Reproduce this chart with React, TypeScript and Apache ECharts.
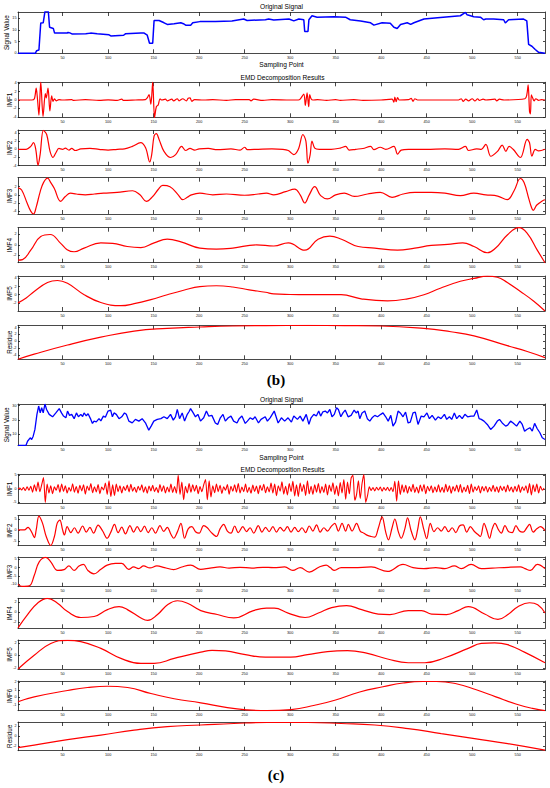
import React, { useEffect, useRef } from "react";
import * as echarts from "echarts";

// ---------- DATA ----------
const xTickValues = [50, 100, 150, 200, 250, 300, 350, 400, 450, 500, 550];

const bOriginal = [[1,0],[20,0],[21.5,1.1],[24,1.4],[26,12.9],[28.7,13],[30.6,17.8],[34.3,17.8],[35.7,11.1],[39.8,10.6],[41.2,8.6],[55,8.6],[56,8.9],[58,8.7],[60.7,8.2],[75.5,8.3],[80.7,8.6],[88,8.3],[101,7.9],[103,7.4],[117,7.7],[119,8.3],[136,8.6],[139.6,8.6],[143,7.7],[145.5,4.3],[149,4.3],[150.5,14.0],[156,14.0],[161.5,13],[165,12.3],[172.5,12.6],[179.9,13],[182.7,12.6],[185.2,12],[190.7,12],[193,13],[200.8,13.5],[218,13.5],[236,13.8],[249,14.6],[252.7,14],[272.8,14.3],[276.4,14.6],[282,14.2],[298.7,14.6],[304,13.8],[309.6,14.6],[315,14.3],[316,9.3],[319.6,9.3],[320.6,14.3],[324,16],[329.6,15.4],[348,15.6],[360.8,15.4],[366,14.3],[377.4,13.8],[388.4,13],[392,12],[401,13],[410,12.8],[414,11.1],[417.6,10.6],[421.3,12.3],[428.6,13],[432.4,12.3],[436,13],[447,14.6],[465,15.3],[487,16],[492.6,17.4],[494.4,16.4],[501.8,15.6],[509,15.4],[512.6,14.3],[515,14.6],[523.6,14.6],[534.6,14.3],[536.4,12.9],[540,14.3],[556.5,14.6],[560,13.8],[562,3.8],[565.6,3.0],[569.3,1.6],[573,0.4],[580,0]];
const bImf1 = [[1,0],[16,0],[19,0.3],[21,2.8],[22.5,0],[24,-3.6],[26,4.3],[28.5,-3.9],[31,1.5],[32,0.5],[34,2.8],[36,-2.6],[38,1.0],[39.5,-0.3],[41,0.3],[43,-0.2],[46,0.1],[50,0],[60,0.1],[62,-0.1],[75,0.1],[90,-0.1],[100,0.05],[110,-0.1],[115,0.2],[117,-0.1],[130,0],[141,0.1],[143,0.5],[145,1.3],[147,-1],[149,4.3],[151,-4.2],[153,-1.6],[155,-1.2],[157,0.3],[159,0],[163,0.2],[165,-0.2],[170,0.2],[172,-0.2],[176,0.3],[178,-0.2],[182,0.3],[186,-0.2],[188,0.4],[190,0.5],[192,-0.3],[195,0.1],[205,0],[215,0.1],[230,-0.1],[240,0.1],[255,0.1],[257,-0.2],[260,0.2],[270,-0.1],[280,0.1],[300,0],[309,0],[311,0.2],[315,1.4],[316.7,-1.3],[318.6,1.7],[320.4,-1.6],[321.5,1.3],[323,0.3],[325,0],[330,0.1],[340,-0.1],[350,0.1],[355,-0.1],[370,0.1],[380,-0.1],[400,0],[412,0.2],[414,-0.5],[415,0.7],[416.5,-0.4],[418,0.6],[420,0],[430,0.1],[433,0.4],[435,-0.3],[437,0.3],[440,0],[460,0],[485,0],[488,0.3],[490,-0.3],[493,0.2],[496,-0.2],[500,0.3],[503,-0.2],[506,0.3],[508,-0.1],[512,0.2],[515,0],[525,0.2],[527,-0.2],[530,0.2],[535,0],[558,0.3],[560,1.2],[561.5,3.6],[563,-2.7],[564,-3.3],[565,1.2],[566.6,0.4],[568,-0.2],[570,0.3],[573,-0.1],[576,0.1],[580,0]];
const bImf2 = [[1,0],[10,0],[15,0.7],[18,1.6],[20.5,0],[23,-3.9],[25.3,-1.3],[28.9,4.6],[32.5,3.6],[36.2,-0.5],[39.5,-2],[42.5,-0.9],[46,0.2],[50,0],[53,0.3],[57,-0.2],[60,0.2],[64,-0.3],[70,0.1],[80,0.2],[90,0],[100,-0.2],[110,0],[118,0.1],[126.6,0.7],[135.8,1.6],[141.3,0.3],[145.7,-3.1],[147.9,-1.3],[150.5,3.2],[153,3.8],[156,2.4],[161.4,-0.5],[168.7,-2],[174.2,-1.3],[180.8,0.7],[185.2,-0.3],[190,0.2],[195,-0.2],[200,0.1],[210,0.2],[220,-0.1],[235,0.1],[245,-0.2],[250,0.5],[253,-0.1],[265,0],[280,0.1],[292,0],[298,-0.3],[304,-1.3],[309,0],[314,3.6],[317.3,2],[319.5,-3.4],[322,-1.3],[324,2],[327,0.3],[332,0],[345,0],[355,0.3],[361,0.7],[365,-0.2],[372,0],[380,0.2],[388.4,0.7],[392,-0.1],[399,0.5],[405,0],[414,0.7],[418,-1.2],[422,-0.2],[430,0],[450,0],[470,0.1],[485,0],[492.6,0.7],[496,-0.3],[505,0.1],[510,0],[515,1.2],[520.5,-1.7],[527.8,-0.5],[533,1.0],[537,-0.5],[540.6,0.7],[545,0],[553,-2],[560.4,2.4],[563,1.6],[565.6,-1.7],[569.3,0],[573,-0.4],[580,0]];
const bImf3 = [[1,1.7],[5,1.2],[11,-2],[15,-4],[18,-4.7],[21,-3],[25.4,0.8],[29,3],[33.5,4.1],[37,3],[40.8,1.6],[47.9,-1.6],[53,-0.4],[58.7,0.4],[65,0.2],[75,0],[85,0.2],[95,0.4],[110,0.6],[127,1.0],[135,0],[142,-1.6],[149,-0.4],[155,1.3],[160,2.3],[168,2],[177,0],[182,-1.2],[187,-0.6],[191.5,0],[200.8,0.4],[215,0],[230,0.2],[250,-0.1],[265,0.2],[274,0.4],[282,0],[295,0.8],[305,1.4],[311,0],[316,-2],[321,0],[327,2],[333.5,-0.2],[341,-1],[350,0],[359.5,0.4],[370.5,-0.4],[385,0.2],[399,0.6],[412,-0.6],[424,0.2],[437,0.6],[447,0.6],[455,0.6],[470,0.4],[487,-0.2],[501.8,0.4],[515,0],[528,-0.3],[538.5,-1.2],[546,1],[553,4.0],[557,3],[562,-0.8],[565,-3],[567,-3.8],[571,-2.5],[577,-1.5],[580,-1.2]];
const bImf4 = [[1,-2.9],[6,-2.8],[15,-1],[26,1.6],[36.3,2.0],[47.9,0.3],[55,-0.9],[62.6,-1.3],[73.6,-0.6],[92,0.4],[105,0.3],[121,-0.3],[136,-0.5],[150.6,0.4],[165,1.1],[180,0.6],[200.8,-0.6],[219,-0.8],[237,-0.6],[263,0],[282,-0.2],[298,0.4],[316,-1],[330.7,1.1],[343.6,1.7],[356.4,1.1],[374.7,-0.3],[392.9,-0.6],[418,-1],[437,-0.6],[455,-0.1],[473,0.1],[489.6,0.4],[502,-0.3],[516.6,-1.5],[525.8,-0.6],[538.6,1.9],[551.4,3.3],[560.5,2.2],[571.5,-1],[580,-3.4]];
const bImf5 = [[1,-2],[10,-0.8],[18.8,0.8],[33.4,3],[44.4,3.5],[55.4,2.8],[73.7,0],[92,-1.9],[114,-2.7],[128.6,-2.2],[147,-1.2],[165,0],[183,1.1],[200.8,2],[219,2.2],[237,1.9],[255,1.2],[273,0.6],[282,0.2],[300,0.05],[319.5,0],[356,0],[378,-1],[407,-1.5],[429,-1],[447,0],[465,1.6],[487,3.3],[502,4],[516.6,4.55],[527.6,4.3],[538.6,3],[553,0.8],[567.7,-1.6],[580,-4]];
const bResidue = [[1,-5.3],[18.8,-3.8],[55.4,-1.1],[92,1.2],[128.6,3],[165,3.8],[200.8,4.2],[237,4.5],[273.5,4.6],[319.6,4.65],[360,4.6],[399.4,4.5],[447,3.8],[476.6,2.8],[502,1.6],[538.6,-1.3],[560.5,-3],[580,-4.8]];

const cOriginal = [[1,2.4],[9.7,2.4],[11.5,5.3],[14.4,7.7],[16,6.5],[17.7,8.8],[19.6,13.5],[21.8,24],[23.7,29.8],[25.4,25],[27,28.6],[28.7,25],[30.6,31.2],[32.4,27.4],[35.3,24],[39,22.3],[42.6,25],[46.3,28],[48.8,25],[51,22.8],[53.6,21.6],[55.4,26.3],[57.6,23.3],[60,24],[62.7,21],[65.2,25],[67.4,22.3],[70,24],[72,22.5],[73.6,25],[76,23],[78,24.4],[81,20.5],[82.8,17.7],[84.5,19.3],[87,18.8],[90,21],[92,19.5],[94.8,22.8],[97,22],[99.9,26.3],[102.8,27],[104.7,22.3],[106.5,25],[109,24],[112,21],[115,22.3],[118,25],[120,24],[122.8,19.3],[126.5,18.1],[130,20.5],[133.8,19.3],[137.4,21],[141,18.1],[144.7,13],[147.3,15.8],[150.2,19.3],[154,20.5],[158,21],[161.3,22.3],[165,21],[168.6,24],[171.6,20],[174,22.3],[176,27.4],[178.5,21],[181.4,25],[184,19.3],[187,24],[189,26],[190.6,28],[193.5,25],[196,22.3],[198.6,24],[201.5,19.3],[205,21.6],[208,26.3],[210.5,22.8],[214,23.3],[217.8,18],[220.4,17],[223.3,21.6],[226.2,24],[228.8,19.3],[232,21.6],[235,22.8],[237.9,19.3],[241.6,18],[244,21],[247,22.8],[250.7,17.7],[253,19.3],[256,21.6],[259,20.5],[261.5,22.3],[265.2,18],[268,20.5],[272.6,22.3],[275,19.3],[278,21.6],[282.5,26.3],[286.8,18],[290.4,21.6],[294,19.3],[297.7,21.6],[301.4,18.6],[304,22.8],[308,20.5],[311,22.8],[314,19.3],[317.7,24],[320.6,17],[323,21.6],[326,24],[328.8,22.8],[331.4,26.3],[333.5,22.8],[336,25.8],[338.6,26.3],[341,25],[343.6,27.4],[346,22.3],[348.5,24],[351,28.6],[353,27.4],[355.7,22.3],[358,25],[360.5,27],[363.7,22.3],[367,23.3],[370.3,27],[372.5,25],[374.6,26.3],[376.5,21],[379,25],[382,26.3],[384.8,21],[387.5,19.3],[390,21.6],[393,23.3],[396,22.3],[399.6,24],[402,25],[405,22.3],[407.7,19.3],[410.6,23.3],[413,15.8],[415.8,18.6],[418.6,26.3],[421,25],[424,22.3],[426.8,25.6],[429.6,18],[432,18.6],[435,25],[437.5,25.6],[440.5,17],[444,22.8],[447,22.3],[450.3,25],[453,21],[456,23.3],[459.6,20],[462.5,22.3],[465.8,21],[469.5,24],[472,20.5],[475,22.3],[477.5,20.5],[480.4,25],[483,21],[486,23.3],[489,21],[492,24],[495,22.3],[498.7,22.8],[502,22.8],[505,27],[507.6,21],[510,20.5],[513,19.3],[516.6,17],[520.3,13.5],[524,15.8],[527.6,19.3],[530,20.5],[533,18],[536.8,15.8],[539,16.5],[542.2,19.3],[545,18],[548.8,15.8],[552.4,19.3],[555,17],[557.6,12.3],[560,13.5],[563.4,14.7],[566,12.3],[568.6,17.7],[571.5,14],[574.4,11.2],[577,7.7],[580,6.5]];
const cImf1 = [[1,0],[3,0.3],[5,-0.4],[7,0.5],[9,-0.6],[11,0.8],[13,-0.5],[15,1.0],[17,-1.2],[19,1.5],[21,-0.8],[23,2.5],[25,-1.0],[27,1.5],[29,4.2],[31,-5.0],[33,1.8],[35,-1.5],[37,1.2],[39,-1.8],[41,0.8],[43,-0.5],[45,1.6],[47,-1.2],[49,1.8],[51,-0.9],[53,1.2],[55,-1.5],[57,0.5],[59,-0.8],[61,1.9],[63,-1.2],[65,0.9],[67,-1.6],[69,1.3],[71,-0.7],[73,1.5],[75,-1.9],[77,1.1],[79,-0.6],[81,2.0],[83,-1.4],[85,0.8],[87,-1.1],[89,1.6],[91,-1.8],[93,0.7],[95,-0.4],[97,2.2],[99,-2.0],[101,3.0],[103,-2.8],[105,1.5],[107,-2.4],[109,1.8],[111,-1.0],[113,1.2],[115,-1.5],[117,0.9],[119,-0.6],[121,1.4],[123,-1.1],[125,1.7],[127,-0.8],[129,0.6],[131,-1.3],[133,1.0],[135,-0.5],[137,1.5],[139,-1.2],[141,0.8],[143,-1.6],[145,1.1],[147,-0.7],[149,1.3],[151,-1.0],[153,0.5],[155,-1.4],[157,1.6],[159,-0.9],[161,1.2],[163,-1.5],[165,0.7],[167,-1.1],[169,1.8],[171,-1.3],[173,0.9],[175,-1.6],[177,5.0],[179,-2.0],[181,2.5],[183,-4.0],[185,1.0],[187,-1.5],[189,2.0],[191,-1.2],[193,1.5],[195,-0.8],[197,1.3],[199,-1.8],[201,0.9],[203,-1.0],[205,1.5],[207,3.5],[209,-4.0],[211,3.0],[213,-3.0],[215,1.2],[217,-1.4],[219,1.8],[221,-1.0],[223,1.3],[225,-1.7],[227,0.8],[229,-0.5],[231,1.6],[233,-1.9],[235,1.0],[237,-0.8],[239,1.5],[241,-1.2],[243,2.0],[245,-1.5],[247,0.7],[249,-1.0],[251,1.8],[253,-1.3],[255,0.6],[257,-1.6],[259,1.4],[261,-0.9],[263,1.1],[265,-1.8],[267,1.3],[269,-0.6],[271,1.7],[273,-1.4],[275,0.8],[277,-1.1],[279,2.2],[281,-1.5],[283,1.8],[285,-2.5],[287,1.2],[289,-0.8],[291,2.6],[293,-1.9],[295,1.0],[297,-2.2],[299,2.0],[301,-1.0],[303,2.8],[305,-2.6],[307,1.5],[309,-2.8],[311,2.2],[313,-1.0],[315,1.6],[317,-2.4],[319,3.0],[321,-1.8],[323,1.0],[325,-2.0],[327,1.5],[329,-1.2],[331,2.0],[333,-1.6],[335,0.9],[337,-1.3],[339,1.8],[341,-2.2],[343,1.4],[345,-0.9],[347,2.3],[349,-2.0],[351,1.2],[353,-2.6],[355,2.4],[357,-1.5],[359,3.5],[361,-3.8],[363,2.5],[365,-1.8],[367,4.0],[369,5.0],[371,-4.2],[373,-2.0],[375,3.0],[377,-3.5],[379,2.0],[381,5.3],[383,-5.0],[385,-2.5],[387,0.8],[389,-0.6],[391,0.5],[393,-0.7],[395,0.6],[397,-0.4],[399,0.7],[401,-0.8],[403,0.5],[405,-0.5],[407,0.6],[409,-0.7],[411,0.5],[413,-1.0],[415,2.8],[417,-4.5],[419,3.0],[421,-2.0],[423,1.5],[425,-1.2],[427,1.3],[429,-1.6],[431,0.9],[433,-1.0],[435,1.7],[437,-1.3],[439,0.7],[441,-1.5],[443,1.4],[445,-0.9],[447,1.6],[449,-1.8],[451,1.0],[453,-0.7],[455,1.2],[457,-1.4],[459,0.8],[461,-1.1],[463,1.5],[465,-1.2],[467,0.6],[469,-1.3],[471,1.7],[473,-1.0],[475,1.2],[477,-1.6],[479,0.9],[481,-0.8],[483,1.4],[485,-1.1],[487,1.6],[489,-1.4],[491,0.7],[493,-1.0],[495,1.3],[497,-1.7],[499,1.8],[501,-1.2],[503,0.8],[505,-0.6],[507,1.2],[509,-1.5],[511,0.9],[513,-0.7],[515,1.0],[517,-1.2],[519,0.6],[521,-0.9],[523,1.3],[525,-1.0],[527,0.8],[529,-1.3],[531,1.1],[533,-0.6],[535,0.9],[537,-1.1],[539,1.4],[541,-0.8],[543,0.7],[545,-1.2],[547,1.0],[549,-0.9],[551,1.5],[553,-1.3],[555,0.8],[557,-0.6],[559,1.2],[561,-1.5],[563,2.0],[565,-2.2],[567,1.5],[569,-1.0],[571,1.8],[573,-1.5],[575,1.0],[577,-0.5],[579,0.3]];
const cImf2 = [[1,0],[8,0],[12,1.2],[16,-1.0],[19,-3.5],[21,0],[24,6.3],[28,3],[32,-3],[37,-7.1],[41,-3],[44,3],[47,4.5],[50,0],[52,-2.3],[55,1.5],[59,-1.2],[63,1.0],[67,-1.5],[72,1.8],[76,-1.0],[80,1.2],[84,-1.5],[89,2.2],[94,-0.5],[99,-3.8],[103,-1.0],[107,2.5],[111,-1.2],[115,1.3],[119,-1.8],[124,2.0],[128,-1.0],[132,1.5],[136,-0.8],[140,1.7],[144,-1.2],[148,1.0],[152,-1.5],[157,2.0],[161,-0.7],[165,1.2],[169,-2.0],[172,-3.8],[176,-1.0],[180,3.0],[184,-3.8],[188,0.5],[192,1.5],[196,-0.8],[200,-1.5],[205,2.0],[209,1.0],[213,-1.0],[219,-3.0],[223,0.5],[227,2.5],[231,-0.5],[235,-1.5],[239,1.8],[243,-1.2],[248,1.5],[252,-0.8],[256,1.0],[260,-1.5],[265,2.0],[269,-1.0],[273,1.2],[277,-0.8],[281,1.5],[285,-1.0],[289,1.2],[293,-0.5],[297,1.5],[301,-1.0],[305,1.2],[309,-0.8],[313,1.0],[317,-1.2],[321,1.8],[325,-0.5],[329,2.3],[333,-1.0],[337,1.0],[341,-0.5],[345,1.5],[349,3.0],[353,-0.5],[357,3.0],[361,-0.5],[364,2.5],[368,-0.5],[373,3.0],[377,-0.5],[381,-1.5],[385,-2.5],[389,-3.0],[393,-3.3],[397,1.0],[401,6.0],[405,-1.0],[408,-4.5],[412,1.0],[415,5.0],[419,-1.0],[422,-3.8],[426,0.5],[429,5.5],[433,-0.5],[437,-4.5],[440,0],[443,6.0],[447,0],[450,-4.0],[454,3.0],[458,-0.8],[462,1.0],[466,-0.5],[470,1.5],[474,-0.8],[478,1.0],[482,-1.2],[486,1.8],[490,2.3],[494,-1.0],[498,1.5],[502,-0.5],[506,-2.0],[509,-3.0],[513,3.0],[516,0],[519,-3.8],[522,0.5],[525,3.0],[529,0],[532,-1.5],[536,2.0],[540,-0.8],[544,-1.2],[548,2.0],[552,-0.5],[556,-1.0],[560,1.0],[563,2.5],[567,-1.0],[571,0.5],[575,1.5],[580,-0.3]];
const cImf3 = [[1,-10],[5,-11.3],[13.3,-11],[18.8,-4.8],[24.3,3.5],[31.6,6.2],[37,3.5],[44.4,-1.7],[51.6,-1.2],[57,1],[62.6,-1.7],[68,1],[72.8,2],[77.8,-1.7],[84.4,-3.8],[91.7,-1.2],[99,1.5],[108,2.5],[115,2.5],[122.6,-1],[128,0.4],[133.5,-0.6],[139,1],[146,-0.2],[153.6,1],[162,0],[172,-1.2],[181,0.4],[190.7,1.5],[201.6,-1],[212,-0.3],[223,0.4],[233,-0.3],[245,0.2],[258,-0.3],[270,0.2],[282,0],[294,0.4],[303,-1.7],[311,0],[321,-2.7],[332,0.4],[339.6,1.5],[344,0],[348.7,-1.7],[356,0],[370,0],[389,0.4],[407,-2.3],[424,1.9],[435,0],[447,-0.6],[460,0],[470,-0.6],[480.4,1],[488,-0.6],[498.8,1.9],[510,-0.6],[522,-0.3],[540,0.2],[553,0.4],[558,-0.6],[564,-1.7],[571.5,2],[580,-0.6]];
const cImf4 = [[1,-3.2],[11.5,-0.5],[22.4,1.8],[33.4,2.8],[44.4,1.8],[55.4,0.1],[70,-1.1],[84.6,-0.9],[99.3,0.5],[112,1.1],[121.2,0.5],[136,-1.2],[143.4,-1.7],[154.3,-0.5],[165.3,1.5],[176.2,2.3],[187.2,1.8],[201.8,0.3],[220,-0.5],[238,-1.2],[259.7,0.3],[274,0.8],[282.6,0.8],[297.8,-0.2],[316.4,-1.1],[331,-0.2],[345.6,0.9],[362,1.3],[378.6,0.5],[396.8,-0.4],[409.6,-0.5],[429.8,0.3],[444.4,0.3],[455.4,-0.4],[471.8,-0.5],[484.6,0.3],[495.6,1.1],[513.7,-0.4],[528.3,-1.5],[539.2,-0.5],[550.2,1.1],[563,1.9],[572,1.5],[580,-0.2]];
const cImf5 = [[1,-2.2],[18.8,0],[37,1.9],[55.4,2.4],[70,2.2],[92,1.1],[114,-0.5],[136,-1.3],[150.6,-1.3],[172.6,-0.5],[201.8,0.5],[214.2,0.8],[229,0.7],[250.8,0.1],[272.7,-0.3],[300.6,-0.3],[319,0.1],[341,0.6],[363,0.75],[385,0.3],[407,-0.6],[429.8,-1.2],[448,-1.2],[470,-0.4],[495.6,1.1],[510,1.9],[524.7,2.0],[539,1.7],[557.4,0.5],[580,-1.2]];
const cImf6 = [[1,-0.6],[18.8,0.05],[55.4,0.9],[77.4,1.3],[99.4,1.47],[121.4,1.3],[147,0.5],[172.6,-0.2],[201.8,-0.75],[231,-1.4],[252.8,-1.7],[274.7,-1.8],[301,-1.65],[327,-1.07],[349,-0.4],[376.4,0.7],[402,1.4],[424,1.9],[446,2.1],[460.6,2.1],[482.5,1.8],[504.5,1.0],[526,0.05],[548,-0.9],[566.3,-1.5],[580,-1.8]];
const cResidue = [[1,-2.3],[18.8,-1.8],[55.4,-0.7],[92,0.2],[128.6,1.2],[165,1.9],[201.8,2.2],[238,2.5],[274.6,2.7],[319.6,2.7],[356,2.5],[393,2.2],[429.6,1.5],[466,0.5],[502.6,-0.5],[539,-1.5],[580,-2.8]];

// y-axis tick labels per panel
const ticksBOrig = [0, 5, 10, 15];
const ticksBImf1 = [-4, -2, 0, 2, 4];
const ticksBImf2 = [-4, -2, 0, 2, 4];
const ticksBImf3 = [-4, -2, 0, 2];
const ticksBImf4 = [-2, 0, 2];
const ticksBImf5 = [-2, 0, 2, 4];
const ticksBRes = [-4, -2, 0, 2, 4];
const ticksCOrig = [10, 20, 30];
const ticksCImf1 = [-5, 0, 5];
const ticksCImf2 = [-5, 0, 5];
const ticksCImf3 = [-10, -5, 0, 5];
const ticksCImf4 = [-2, 0, 2];
const ticksCImf5 = [-2, 0, 2];
const ticksCImf6 = [-1, 0, 1, 2];
const ticksCRes = [-2, 0, 2];

// ---------- LAYOUT ----------
const FONT = "Liberation Sans";
const BLUE = "#0000ff";
const RED = "#ff0000";
const X_MIN = 1;
const X_MAX = 580;
const PLOT_LEFT = 18;
const PLOT_RIGHT = 545;

type Panel = {
  name: string; data: number[][]; ticks: number[]; yMin: number; yMax: number;
  top: number; bottom: number; color: string; width: number; smooth: number | boolean; original?: boolean;
};

const PANELS: Panel[] = [
  { name: "Signal Value", data: bOriginal, ticks: ticksBOrig, yMin: 0, yMax: 17.6, top: 12, bottom: 53.3, color: BLUE, width: 1.5, smooth: false, original: true },
  { name: "IMF1", data: bImf1, ticks: ticksBImf1, yMin: -4.1, yMax: 4.2, top: 82.3, bottom: 117.3, color: RED, width: 1.2, smooth: 0.3 },
  { name: "IMF2", data: bImf2, ticks: ticksBImf2, yMin: -4.0, yMax: 4.7, top: 130, bottom: 165.7, color: RED, width: 1.2, smooth: 0.35 },
  { name: "IMF3", data: bImf3, ticks: ticksBImf3, yMin: -4.7, yMax: 4.2, top: 177.7, bottom: 214, color: RED, width: 1.2, smooth: 0.4 },
  { name: "IMF4", data: bImf4, ticks: ticksBImf4, yMin: -3.4, yMax: 3.3, top: 227.7, bottom: 262.7, color: RED, width: 1.2, smooth: 0.45 },
  { name: "IMF5", data: bImf5, ticks: ticksBImf5, yMin: -4.0, yMax: 4.6, top: 276, bottom: 311, color: RED, width: 1.2, smooth: 0.45 },
  { name: "Residue", data: bResidue, ticks: ticksBRes, yMin: -5.3, yMax: 4.7, top: 325.3, bottom: 359.3, color: RED, width: 1.2, smooth: 0.5 },
  { name: "Signal Value", data: cOriginal, ticks: ticksCOrig, yMin: 2.2, yMax: 31.2, top: 404, bottom: 445.7, color: BLUE, width: 1.3, smooth: false, original: true },
  { name: "IMF1", data: cImf1, ticks: ticksCImf1, yMin: -5.3, yMax: 5.4, top: 474.3, bottom: 503.3, color: RED, width: 1.1, smooth: 0.25 },
  { name: "IMF2", data: cImf2, ticks: ticksCImf2, yMin: -7.2, yMax: 6.5, top: 515.7, bottom: 545.7, color: RED, width: 1.2, smooth: 0.35 },
  { name: "IMF3", data: cImf3, ticks: ticksCImf3, yMin: -11.5, yMax: 6.4, top: 557, bottom: 586.7, color: RED, width: 1.2, smooth: 0.4 },
  { name: "IMF4", data: cImf4, ticks: ticksCImf4, yMin: -3.3, yMax: 2.8, top: 598.3, bottom: 628.3, color: RED, width: 1.2, smooth: 0.45 },
  { name: "IMF5", data: cImf5, ticks: ticksCImf5, yMin: -2.2, yMax: 2.45, top: 640, bottom: 669, color: RED, width: 1.2, smooth: 0.45 },
  { name: "IMF6", data: cImf6, ticks: ticksCImf6, yMin: -1.8, yMax: 2.17, top: 681, bottom: 710.7, color: RED, width: 1.2, smooth: 0.5 },
  { name: "Residue", data: cResidue, ticks: ticksCRes, yMin: -2.9, yMax: 2.8, top: 722, bottom: 750.7, color: RED, width: 1.2, smooth: 0.5 },
];

const TEXTS = [
  { text: "Original Signal", x: 281.5, y: 6.7 },
  { text: "Sampling Point", x: 281.5, y: 64 },
  { text: "EMD Decomposition Results", x: 282.5, y: 77.5 },
  { text: "Original Signal", x: 281.5, y: 399 },
  { text: "Sampling Point", x: 281.5, y: 457.3 },
  { text: "EMD Decomposition Results", x: 282.5, y: 469.3 },
];

function buildOption() {
  const grid: any[] = [];
  const xAxis: any[] = [];
  const yAxis: any[] = [];
  const series: any[] = [];
  const graphic: any[] = [];
  const lineStyle = { color: "#1a1a1a", width: 0.8 };
  const labelStyle = { fontSize: 3.8, color: "#111", fontFamily: FONT };

  PANELS.forEach((p, i) => {
    grid.push({ left: PLOT_LEFT, width: PLOT_RIGHT - PLOT_LEFT, top: p.top, height: p.bottom - p.top, show: false });
    const xBase = {
      type: "value", gridIndex: i, min: X_MIN, max: X_MAX,
      axisLine: { show: true, onZero: false, lineStyle },
      axisTick: { show: true, inside: true, length: 4, customValues: xTickValues, lineStyle },
      splitLine: { show: false },
    };
    xAxis.push({ ...xBase, position: "bottom", axisLabel: { show: true, customValues: xTickValues, margin: 2.5, ...labelStyle } });
    xAxis.push({ ...xBase, position: "top", axisLabel: { show: false } });
    const yBase = {
      type: "value", gridIndex: i, min: p.yMin, max: p.yMax,
      axisLine: { show: true, onZero: false, lineStyle },
      axisTick: { show: true, inside: true, length: 2, customValues: p.ticks, lineStyle },
      splitLine: { show: false },
    };
    yAxis.push({ ...yBase, position: "left", axisLabel: { show: true, customValues: p.ticks, margin: 1.5, ...labelStyle } });
    yAxis.push({ ...yBase, position: "right", axisLabel: { show: false } });
    series.push({
      type: "line", xAxisIndex: 2 * i, yAxisIndex: 2 * i, data: p.data,
      showSymbol: false, symbol: "none", smooth: p.smooth, clip: true,
      lineStyle: { color: p.color, width: p.width }, z: 1,
    });
    graphic.push({
      type: "text", x: p.original ? 6.5 : 9, y: (p.top + p.bottom) / 2, rotation: Math.PI / 2,
      style: { text: p.name, fontSize: 6.3, fontFamily: FONT, fill: "#000", align: "center", verticalAlign: "middle", textAlign: "center", textVerticalAlign: "middle" },
    });
  });

  TEXTS.forEach((t) => {
    graphic.push({
      type: "text", x: t.x, y: t.y,
      style: { text: t.text, fontSize: 6.6, fontFamily: FONT, fill: "#000", align: "center", verticalAlign: "middle", textAlign: "center", textVerticalAlign: "middle" },
    });
  });
  graphic.push({ type: "text", x: 276, y: 380, style: { text: "(b)", fontSize: 15, fontWeight: "bold", fontFamily: "Liberation Serif", fill: "#000", align: "center", verticalAlign: "middle", textAlign: "center", textVerticalAlign: "middle" } });
  graphic.push({ type: "text", x: 276, y: 775, style: { text: "(c)", fontSize: 15, fontWeight: "bold", fontFamily: "Liberation Serif", fill: "#000", align: "center", verticalAlign: "middle", textAlign: "center", textVerticalAlign: "middle" } });

  return { animation: false, backgroundColor: "#ffffff", grid, xAxis, yAxis, series, graphic };
}

export default function App() {
  const ref = useRef<HTMLDivElement>(null);
  useEffect(() => {
    if (!ref.current) return;
    const chart = echarts.init(ref.current, null, { renderer: "svg" });
    chart.setOption(buildOption() as any);
    return () => chart.dispose();
  }, []);
  return <div ref={ref} style={{ position: "absolute", left: 0, top: 0, width: 550, height: 788, background: "#fff" }} />;
}
